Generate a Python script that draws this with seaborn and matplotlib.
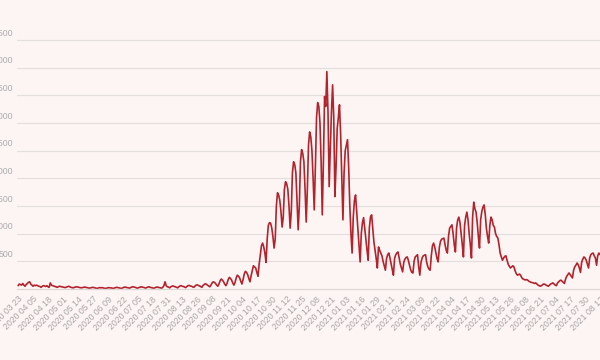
import numpy as np
import pandas as pd
import matplotlib
matplotlib.use("Agg")
import matplotlib.pyplot as plt
import matplotlib.transforms as mtransforms
import seaborn as sns

start_date = "2020-03-23"
tick_step = 13
y_ticks = [500, 1000, 1500, 2000, 2500, 3000, 3500, 4000, 4500]

daily_cases = [
    60, 90, 80, 70, 100, 70, 50,
    80, 100, 120, 130, 90, 70, 50,
    70, 60, 70, 60, 50, 45, 30,
    50, 60, 55, 45, 60, 40, 30,
    110, 70, 60, 55, 45, 40, 30,
    40, 50, 45, 40, 35, 30, 25,
    35, 40, 50, 40, 30, 25, 20,
    30, 35, 40, 35, 30, 25, 20,
    25, 30, 35, 30, 25, 20, 15,
    20, 25, 30, 25, 20, 15, 10,
    20, 25, 20, 25, 20, 15, 10,
    15, 20, 25, 20, 20, 15, 10,
    20, 25, 30, 25, 20, 15, 10,
    20, 30, 35, 30, 25, 20, 15,
    25, 35, 40, 35, 30, 20, 15,
    25, 30, 40, 35, 30, 25, 15,
    25, 35, 40, 30, 25, 20, 15,
    20, 30, 35, 30, 25, 20, 15,
    30, 60, 130, 60, 40, 35, 20,
    40, 50, 55, 45, 40, 30, 20,
    40, 55, 60, 50, 45, 35, 25,
    45, 60, 65, 55, 50, 40, 30,
    50, 70, 75, 65, 55, 45, 30,
    60, 80, 95, 85, 70, 55, 40,
    70, 110, 130, 120, 100, 70, 50,
    90, 150, 180, 160, 130, 90, 60,
    100, 170, 210, 190, 160, 110, 70,
    120, 200, 250, 230, 200, 140, 90,
    170, 270, 320, 300, 260, 190, 130,
    240, 330, 420, 400, 380, 300, 230,
    450, 620, 780, 830, 760, 650, 480,
    900, 1150, 1200, 1190, 1100, 950, 740,
    900, 1500, 1740, 1700, 1600, 1400, 1120,
    1300, 1800, 1940, 1900, 1800, 1500, 1100,
    1400, 2100, 2300, 2250, 2100, 1600, 1070,
    1500, 2300, 2520, 2450, 2300, 1800, 1210,
    1800, 2600, 2840, 2750, 2500, 2000, 1430,
    2200, 3100, 3370, 3300, 3000, 2300, 1340,
    2300, 3480, 3300, 3930, 3200, 1850, 2500,
    3200, 3690, 3100, 1670, 2200, 2900, 3100,
    3330, 2800, 2000, 1250, 2100, 2500, 2600,
    2700, 2200, 1500, 1000, 650, 1300, 1600,
    1700, 1400, 1100, 800, 490, 1000, 1200,
    1290, 1100, 900, 700, 520, 1100, 1300,
    1340, 1100, 850, 700, 550, 380, 760,
    700, 650, 600, 500, 420, 340, 550,
    620, 650, 560, 450, 350, 250, 550,
    620, 650, 670, 560, 450, 380, 310,
    480, 540, 570, 580, 520, 430, 350,
    300, 290, 500, 580, 600, 620, 400,
    250, 480, 560, 600, 610, 620, 480,
    400, 360, 340, 600, 780, 830, 760,
    650, 550, 490, 750, 860, 900, 910,
    920, 800, 700, 650, 950, 1100, 1130,
    1160, 1000, 800, 670, 1100, 1250, 1300,
    1200, 1000, 800, 580, 1150, 1300, 1390,
    1250, 1000, 800, 560, 1300, 1570, 1450,
    1390, 1200, 950, 740, 1250, 1400, 1480,
    1520, 1350, 1100, 950, 830, 1150, 1300,
    1250, 1150, 1120, 1000, 950, 920, 800,
    650, 580, 520, 560, 590, 600, 520,
    450, 410, 380, 400, 420, 400, 330,
    280, 250, 260, 270, 240, 200, 180,
    170, 165, 170, 160, 140, 130, 120,
    115, 110, 100, 110, 90, 70, 60,
    50, 60, 80, 90, 85, 70, 60,
    50, 70, 90, 100, 110, 90, 70,
    60, 110, 130, 150, 160, 140, 120,
    100, 180, 230, 260, 290, 260, 230,
    200, 340, 400, 430, 470, 440, 380,
    300, 480, 540, 580, 560, 520, 450,
    380, 560, 620, 640, 650, 600, 560,
    430, 600, 650, 620, 640, 660,
]

dates = pd.date_range(start_date, periods=len(daily_cases), freq="D")
df = pd.DataFrame({"day": np.arange(len(daily_cases)), "cases": daily_cases})

bg = "#fdf5f4"
sns.set_theme(style="white")
plt.rcParams["font.family"] = ["Liberation Sans", "DejaVu Sans"]

fig = plt.figure(figsize=(6, 3.6), dpi=100)
fig.patch.set_facecolor(bg)
ax = fig.add_axes([17 / 600, 71 / 360, 583 / 600, 260 / 360])
ax.set_facecolor(bg)

sns.lineplot(data=df, x="day", y="cases", ax=ax, color="#b2232d", linewidth=1.2)

ax.set_xlim(-1, 506)
ax.set_ylim(0, 4700)
ax.set_yticks(y_ticks)
ax.set_yticklabels([str(v) for v in y_ticks])
ax.yaxis.grid(True, color="#e4dfdf", linewidth=0.9)
ax.set_axisbelow(True)

tick_pos = list(range(0, len(daily_cases), tick_step))
ax.set_xticks(tick_pos)
ax.set_xticklabels([dates[i].strftime("%Y %m %d") for i in tick_pos],
                   rotation=45, ha="right", rotation_mode="anchor",
                   fontsize=6.3, color="#a6a6a6")
ax.tick_params(axis="x", length=0, pad=4)
ax.tick_params(axis="y", length=0, pad=3, labelsize=6.3, labelcolor="#ababab")

offset = mtransforms.ScaledTranslation(0, 8 / 100, fig.dpi_scale_trans)
for lab in ax.get_yticklabels():
    lab.set_transform(lab.get_transform() + offset)

for s in ["top", "right", "left"]:
    ax.spines[s].set_visible(False)
ax.spines["bottom"].set_color("#dcd6d6")
ax.spines["bottom"].set_linewidth(0.9)

ax.set_xlabel("")
ax.set_ylabel("")

fig.savefig("out.png", dpi=100, facecolor=bg)
